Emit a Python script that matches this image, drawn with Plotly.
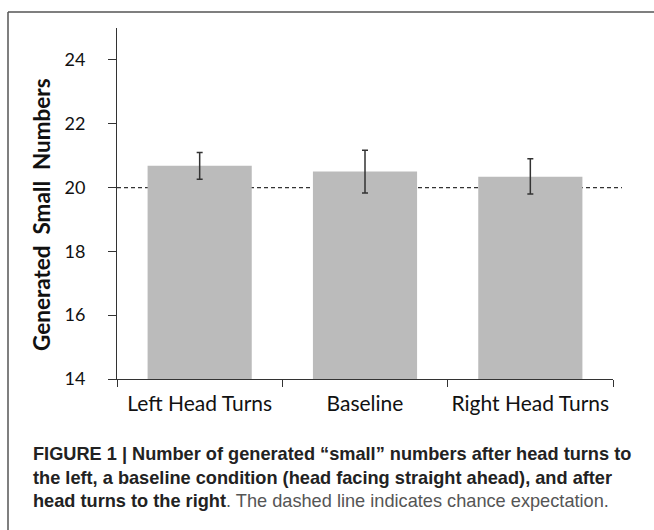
import plotly.graph_objects as go

categories = ["Left Head Turns", "Baseline", "Right Head Turns"]
means = [20.68, 20.50, 20.34]
err_plus = [0.42, 0.67, 0.56]
err_minus = [0.42, 0.67, 0.54]
chance_level = 20
y_ticks = [14, 16, 18, 20, 22, 24]

W, H = 654, 530
L, R, T, B = 117, 41, 28, 151
pw, ph = W - L - R, H - T - B

def px(x):
    return (x - L) / pw

def py(y):
    return (H - B - y) / ph

fig = go.Figure()
fig.add_trace(go.Bar(
    x=categories, y=means, width=0.63,
    marker=dict(color="#bbbbbb", line=dict(width=0)),
    error_y=dict(type="data", symmetric=False, array=err_plus, arrayminus=err_minus,
                 color="#333333", thickness=1.5, width=3),
    showlegend=False,
))

fig.add_shape(type="line", xref="paper", yref="y", x0=0, x1=px(622), y0=chance_level, y1=chance_level,
              line=dict(color="#333333", width=1.2, dash="4px,3px"), layer="below")

# outer frame (top and left edges visible)
fig.add_shape(type="line", xref="paper", yref="paper", x0=px(8), x1=px(660), y0=py(12), y1=py(12),
              line=dict(color="#555555", width=1.5))
fig.add_shape(type="line", xref="paper", yref="paper", x0=px(8), x1=px(8), y0=py(12), y1=py(540),
              line=dict(color="#555555", width=1.5))

fig.add_annotation(xref="paper", yref="paper", x=px(42), y=py(215), xanchor="center", yanchor="middle",
                   text="<b>Generated  Small  Numbers</b>",
                   textangle=-90, showarrow=False, font=dict(family="Lato, Open Sans, sans-serif", size=22.5, color="#111111"))

caption = ("<b>FIGURE 1 | Number of generated \u201csmall\u201d numbers after head turns to<br>"
           "the left, a baseline condition (head facing straight ahead), and after<br>"
           "head turns to the right</b><span style='color:#555555'>. The dashed line indicates chance expectation.</span>")
fig.add_annotation(xref="paper", yref="paper", x=px(31), y=py(442), xanchor="left", yanchor="top",
                   align="left", text=caption, showarrow=False,
                   font=dict(family="Liberation Sans, Arial, sans-serif", size=18.2, color="#222222"))

fig.update_layout(
    width=W, height=H,
    margin=dict(l=L, r=R, t=T, b=B, autoexpand=False),
    paper_bgcolor="white", plot_bgcolor="white",
    font=dict(family="Lato, Open Sans, sans-serif", color="#111111"),
    xaxis=dict(showline=True, linecolor="#333333", linewidth=1, ticks="outside", ticklen=7,
               tickcolor="#333333", tickson="boundaries", tickfont=dict(size=21), showgrid=False,
               ticklabelstandoff=6, tickangle=0, automargin=False),
    yaxis=dict(range=[14, 25], tickvals=y_ticks, showline=True, linecolor="#333333", linewidth=1,
               ticks="outside", ticklen=8, tickcolor="#333333", tickfont=dict(size=18), showgrid=False,
               zeroline=False, ticklabelstandoff=19, automargin=False),
    bargap=0.37,
)

fig.write_html("out.html", config={"displayModeBar": False},
               post_script="document.body.style.margin='0';document.body.style.overflow='hidden';")
